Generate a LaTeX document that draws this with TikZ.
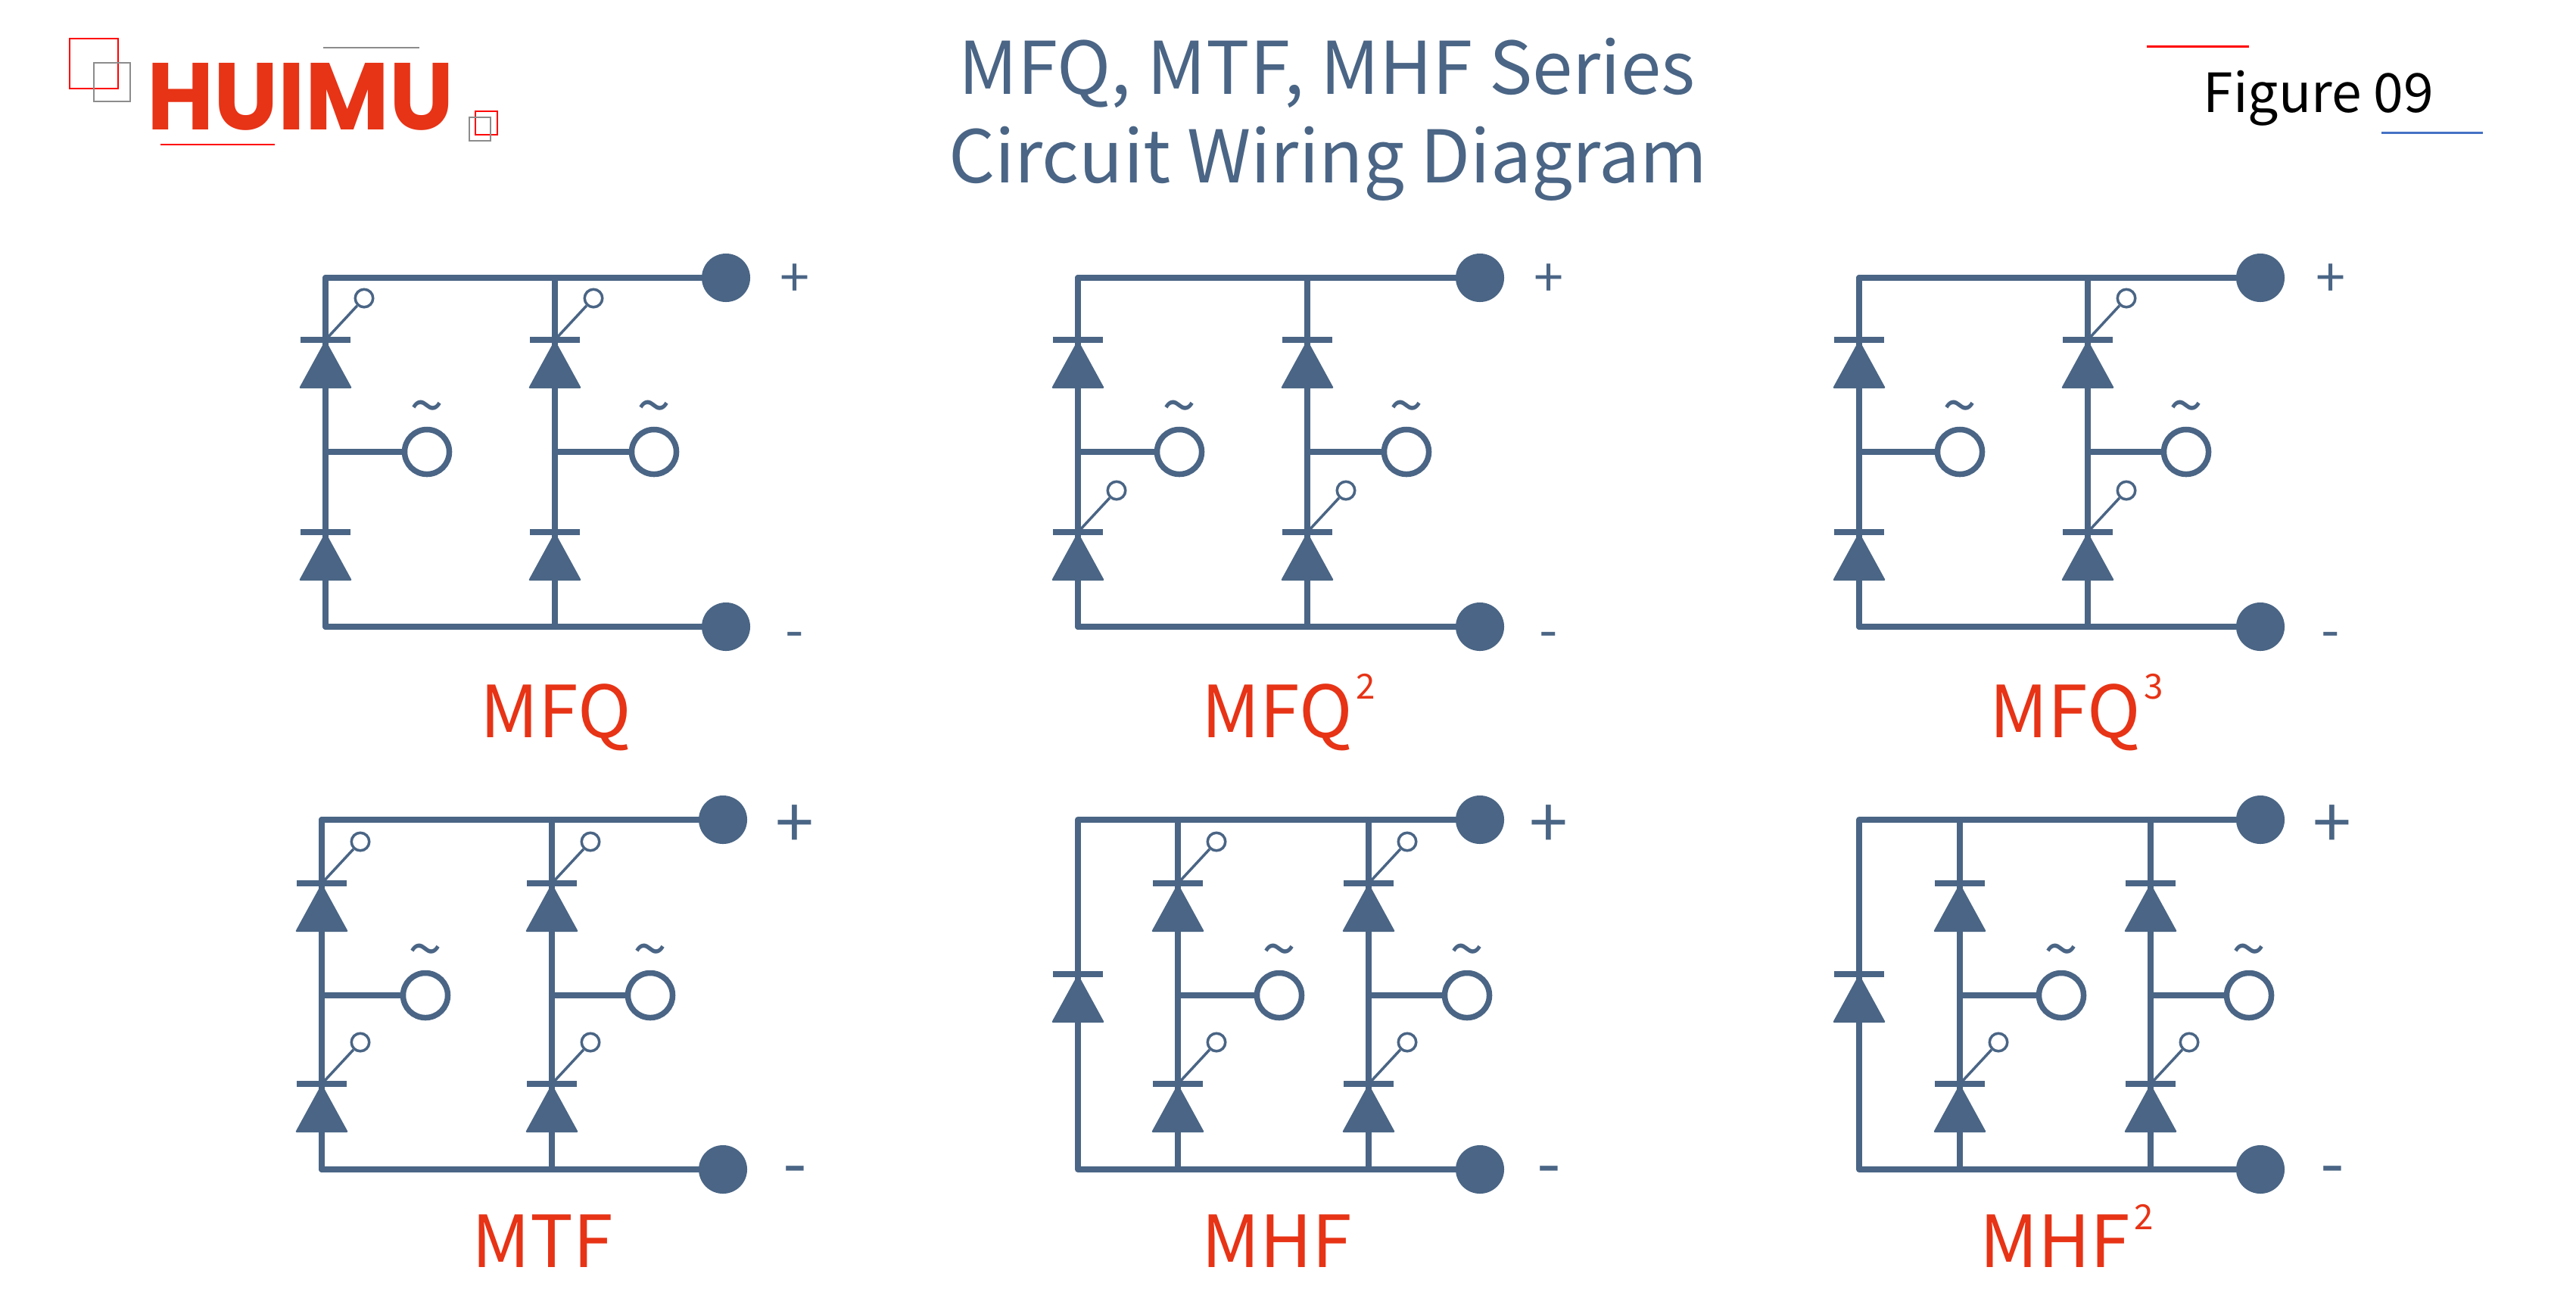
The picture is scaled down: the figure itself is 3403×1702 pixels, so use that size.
\documentclass[tikz,border=0pt]{standalone}
\usepackage{fontspec}
\usepackage{graphicx}
\setmainfont{Noto Sans CJK SC}
\newfontfamily\logofont{Poppins}[UprightFont=* Bold]
\definecolor{wireblue}{HTML}{4A6585}
\definecolor{huimured}{HTML}{E73316}
\definecolor{linegray}{HTML}{8C8C8C}
\definecolor{lineblue}{HTML}{4472C4}
\tikzset{
  wire/.style={draw=wireblue, line width=0.08cm, line cap=round, line join=round},
  gateline/.style={draw=wireblue, line width=0.035cm},
  term/.style={circle, fill=wireblue, minimum size=0.64cm, inner sep=0pt},
  acport/.style={circle, draw=wireblue, fill=white, line width=0.075cm, minimum size=0.59cm, inner sep=0pt},
  gateport/.style={circle, draw=wireblue, fill=white, line width=0.035cm, minimum size=0.235cm, inner sep=0pt},
  tildetext/.style={text=wireblue, inner sep=0pt, font=\fontsize{23}{23}\selectfont},
  polar/.style={text=wireblue, inner sep=0pt, font=\fontsize{\plussize}{20}\selectfont},
  seriesname/.style={text=huimured, anchor=base west, inner sep=0pt, font=\fontsize{27}{30}\selectfont},
  titletext/.style={text=wireblue, inner sep=0pt, font=\fontsize{27.3}{32}\selectfont},
}
\newcommand{\serieshigh}[1]{\hspace{0.05cm}\raisebox{0.5cm}{\fontsize{13}{13}\selectfont #1}}
\newcommand{\plaindiode}[3]{
  \coordinate (#1) at (#2,#3);
  \fill[wireblue, rounded corners=0.02cm] (#1) -- (#2+35,#3+64) -- (#2-35,#3+64) -- cycle;
  \draw[draw=wireblue, line width=0.08cm] (#2-33,#3) -- (#2+33,#3);
}
\newcommand{\gatediode}[3]{
  \plaindiode{#1}{#2}{#3}
  \node[gateport] (#1g) at (#2+51,#3-55) {};
  \draw[gateline] (#1) -- (#1g);
}
\newcommand{\rails}[4]{
  \node[term] (#1plus) at (#3,\rowtop) {};
  \node[term] (#1minus) at (#3,\rowbot) {};
  \node[polar] (#1p) at (#4,\rowtop+\plusdrop) {+};
  \node[polar] (#1m) at (#4,\rowbot+\minusdrop) {-};
  \coordinate (#1tl) at (#2,\rowtop);
  \coordinate (#1bl) at (#2,\rowbot);
  \draw[wire] (#1plus) -- (#1tl) -- (#1bl) -- (#1minus);
}
\newcommand{\branch}[5]{
  \coordinate (#1t) at (#2,\rowtop);
  \coordinate (#1b) at (#2,\rowbot);
  \coordinate (#1tap) at (#2,\tapy);
  \draw[wire] (#1t) -- (#1b);
  \node[acport] (#1ac) at (#3,\tapy) {};
  \node[tildetext] (#1tilde) at (#3,\tapy-50) {\textasciitilde};
  \draw[wire] (#1tap) -- (#1ac);
  #4{#1u}{#2}{\upbar}
  #5{#1l}{#2}{\lowbar}
}
\begin{document}
\begin{tikzpicture}[x=0.01cm, y=-0.01cm]
\useasboundingbox (0,0) rectangle (3403,1702);

%logo
\draw[red, line width=0.025cm] (92,51) rectangle (156,117);
\draw[linegray, line width=0.025cm] (124,83) rectangle (172,134);
\draw[red, line width=0.02cm] (628,147) rectangle (657,178);
\draw[linegray, line width=0.02cm] (620,155) rectangle (648,186);
\draw[linegray, line width=0.02cm] (427,63) -- (554,63);
\draw[red, line width=0.02cm] (212,191) -- (363,191);
\node[text=huimured, inner sep=0pt] (logotext) at (397,128) {\resizebox{4.05cm}{0.88cm}{\logofont HUIMU}};

%title
\node[titletext] (titleone) at (1753,96) {MFQ, MTF, MHF Series};
\node[titletext] (titletwo) at (1754,216) {Circuit Wiring Diagram};

%figure number
\node[inner sep=0pt, anchor=base west, font=\fontsize{20.3}{24}\selectfont] (figno) at (2910,148) {Figure 09};
\draw[red, line width=0.03cm] (2836,61) -- (2971,61);
\draw[lineblue, line width=0.03cm] (3146,175) -- (3280,175);

%top row
\def\rowtop{367}\def\rowbot{828}\def\upbar{449}\def\lowbar{703}\def\tapy{597}\def\plussize{20}\def\plusdrop{4}\def\minusdrop{18}

%MFQ
\rails{a}{430}{959}{1050}
\branch{aone}{430}{564}{\gatediode}{\plaindiode}
\branch{atwo}{733}{864}{\gatediode}{\plaindiode}
\node[seriesname] (aname) at (634,974) {MFQ};

%MFQ 2
\rails{b}{1424}{1955}{2046}
\branch{bone}{1424}{1558}{\plaindiode}{\gatediode}
\branch{btwo}{1727}{1858}{\plaindiode}{\gatediode}
\node[seriesname] (bname) at (1587,974) {MFQ\serieshigh{2}};

%MFQ 3
\rails{c}{2456}{2986}{3079}
\branch{cone}{2456}{2589}{\plaindiode}{\plaindiode}
\branch{ctwo}{2758}{2888}{\gatediode}{\gatediode}
\node[seriesname] (cname) at (2628,974) {MFQ\serieshigh{3}};

%bottom row
\def\rowtop{1083}\def\rowbot{1545}\def\upbar{1167}\def\lowbar{1432}\def\tapy{1315}\def\plussize{26}\def\plusdrop{9}\def\minusdrop{10}

%MTF
\rails{d}{425}{955}{1050}
\branch{done}{425}{562}{\gatediode}{\gatediode}
\branch{dtwo}{729}{859}{\gatediode}{\gatediode}
\node[seriesname] (dname) at (623,1674) {MTF};

%MHF
\rails{e}{1424}{1955}{2046}
\plaindiode{efree}{1424}{1287}
\branch{eone}{1556}{1690}{\gatediode}{\gatediode}
\branch{etwo}{1808}{1938}{\gatediode}{\gatediode}
\node[seriesname] (ename) at (1587,1674) {MHF};

%MHF 2
\rails{f}{2456}{2986}{3081}
\plaindiode{ffree}{2456}{1287}
\branch{fone}{2589}{2723}{\plaindiode}{\gatediode}
\branch{ftwo}{2841}{2971}{\plaindiode}{\gatediode}
\node[seriesname] (fname) at (2615,1674) {MHF\serieshigh{2}};
\end{tikzpicture}
\end{document}
